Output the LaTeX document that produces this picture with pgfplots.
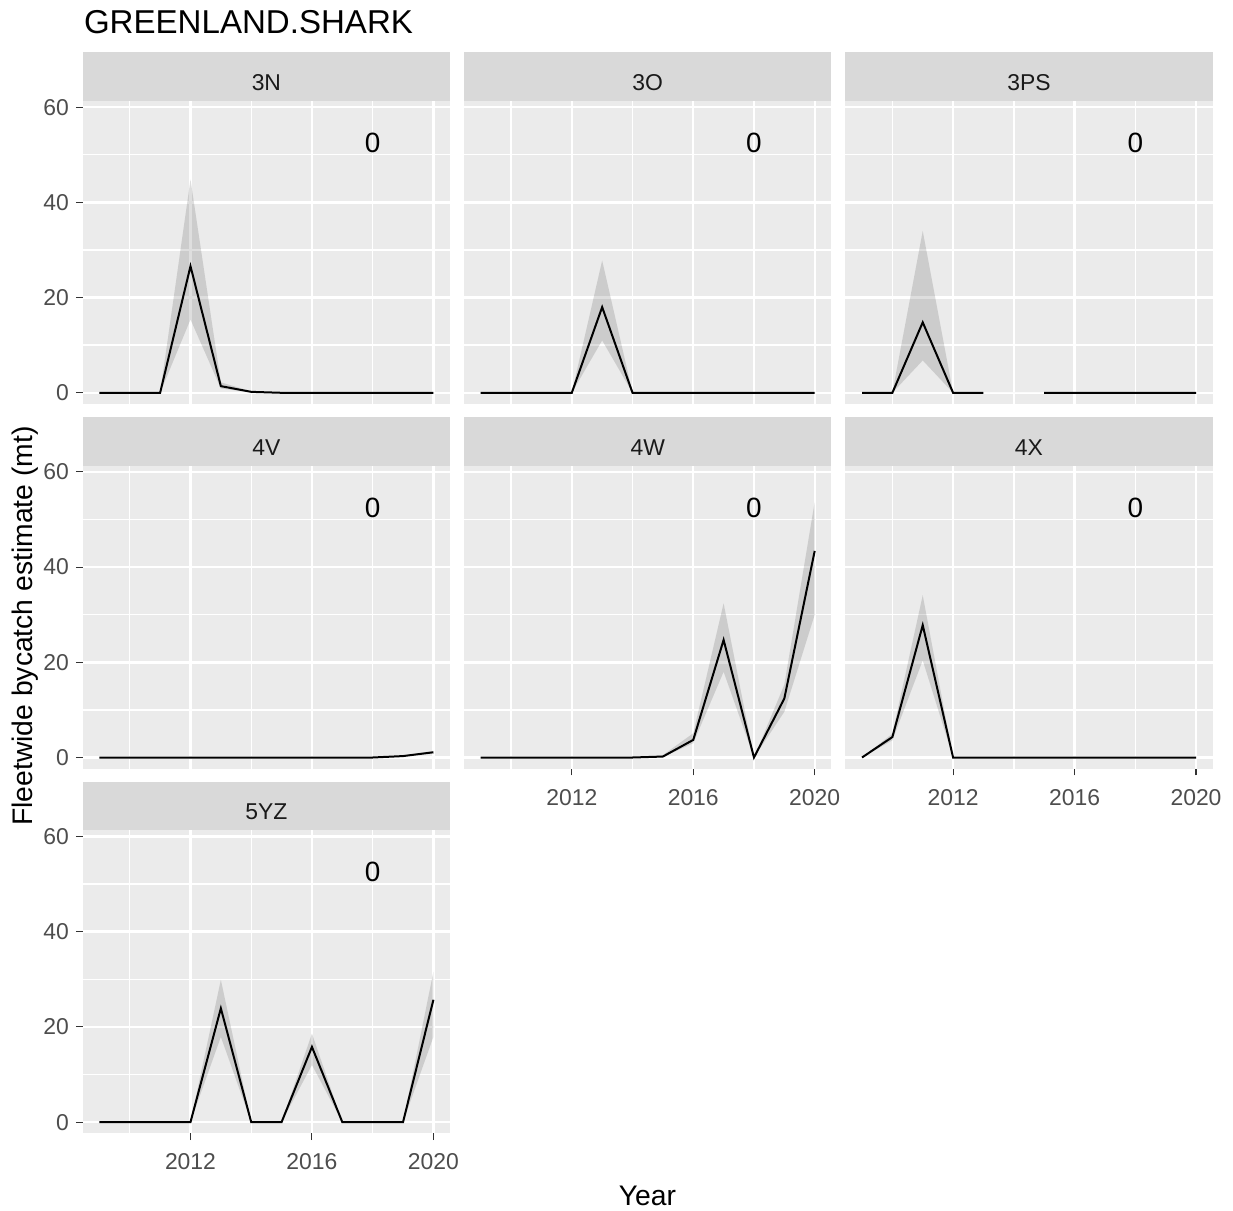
\documentclass[border=0pt]{standalone}
\usepackage{pgfplots}
\pgfplotsset{compat=1.18}
\usepackage{pgfplotstable}
\usepgfplotslibrary{fillbetween}
\usepackage{fontspec}
\setmainfont{Liberation Sans}

\definecolor{panelbg}{HTML}{EBEBEB}
\definecolor{stripbg}{HTML}{D9D9D9}
\definecolor{ticktext}{HTML}{4D4D4D}
\definecolor{tickmark}{HTML}{333333}
\definecolor{striptext}{HTML}{1A1A1A}

% Fleetwide bycatch estimate (mt) with lower / upper bounds, by NAFO division
\pgfplotstableread{
year est lo hi
2009 0 0 0
2010 0 0 0
2011 0 0 0
2012 26.6 15.4 44.8
2013 1.4 0.9 2.2
2014 0.2 0.1 0.3
2015 0 0 0
2016 0 0 0
2017 0 0 0
2018 0 0 0
2019 0 0 0
2020 0 0 0
}\tabThreeN
\pgfplotstableread{
year est lo hi
2009 0 0 0
2010 0 0 0
2011 0 0 0
2012 0 0 0
2013 18.0 11.0 27.8
2014 0 0 0
2015 0 0 0
2016 0 0 0
2017 0 0 0
2018 0 0 0
2019 0 0 0
2020 0 0 0
}\tabThreeO
\pgfplotstableread{
year est lo hi
2009 0 0 0
2010 0 0 0
2011 14.8 6.8 34.0
2012 0 0 0
2013 0 0 0
2014 nan 0 0
2015 0 0 0
2016 0 0 0
2017 0 0 0
2018 0 0 0
2019 0 0 0
2020 0 0 0
}\tabThreePS
\pgfplotstableread{
year est lo hi
2009 0 0 0
2010 0 0 0
2011 0 0 0
2012 0 0 0
2013 0 0 0
2014 0 0 0
2015 0 0 0
2016 0 0 0
2017 0 0 0
2018 0 0 0
2019 0.3 0.2 0.4
2020 1.1 0.9 1.4
}\tabFourV
\pgfplotstableread{
year est lo hi
2009 0 0 0
2010 0 0 0
2011 0 0 0
2012 0 0 0
2013 0 0 0
2014 0 0 0
2015 0.2 0.1 0.5
2016 3.7 3.0 5.1
2017 24.7 18.0 32.4
2018 0 0 0
2019 12.4 9.6 15.3
2020 43.4 30.0 53.7
}\tabFourW
\pgfplotstableread{
year est lo hi
2009 0 0 0
2010 4.3 3.6 5.0
2011 27.8 20.4 34.1
2012 0 0 0
2013 0 0 0
2014 0 0 0
2015 0 0 0
2016 0 0 0
2017 0 0 0
2018 0 0 0
2019 0 0 0
2020 0 0 0
}\tabFourX
\pgfplotstableread{
year est lo hi
2009 0 0 0
2010 0 0 0
2011 0 0 0
2012 0 0 0
2013 23.9 17.9 29.9
2014 0 0 0
2015 0 0 0
2016 15.8 12.0 18.6
2017 0 0 0
2018 0 0 0
2019 0 0 0
2020 25.7 17.9 31.6
}\tabFiveYZ

\pgfplotsset{
  facet/.style={
    scale only axis, width=183.7bp, height=151.5bp,
    xmin=2008.45, xmax=2020.55, ymin=-2.35, ymax=61.3,
    axis background/.style={fill=panelbg},
    axis line style={draw=none},
    xtick={2012,2016,2020}, minor xtick={2010,2014,2018},
    ytick={0,20,40,60}, minor ytick={10,30,50},
    grid=both,
    major grid style={white, line width=1.2bp},
    minor grid style={white, line width=0.7bp},
    tick align=outside, major tick length=3.4bp, minor tick length=0pt,
    xtick pos=bottom, ytick pos=left,
    tick style={tickmark, line width=0.55bp},
    tick label style={font=\fontsize{11.5}{13}\selectfont, text=ticktext},
    x tick label style={/pgf/number format/1000 sep={}, yshift=-3.3bp},
    /pgf/number format/assume math mode=true,
  },
  noxlab/.style={xticklabels={}, x tick style={draw=none}},
  noylab/.style={yticklabels={}, y tick style={draw=none}},
}

% one facet: name, table, axis options, position, strip label
\newcommand{\facet}[5]{%
  \begin{axis}[facet, name=#1, at={#4}, anchor=south west, #3]
    \addplot[name path=hi, draw=none, forget plot] table[x=year, y=hi]{#2};
    \addplot[name path=lo, draw=none, forget plot] table[x=year, y=lo]{#2};
    \addplot[fill=black, fill opacity=0.13, draw=none] fill between[of=hi and lo];
    \addplot[black, line width=1bp, unbounded coords=jump] table[x=year, y=est]{#2};
    \node[font=\fontsize{14}{16}\selectfont] at (axis cs:2018,52.5) {0};
  \end{axis}
  \fill[stripbg] (#1.north west) rectangle ([yshift=24.35bp]#1.north east);
  \node[anchor=base, font=\fontsize{11.5}{13}\selectfont, text=striptext]
    at ([yshift=5.2bp]#1.north) {#5};
}

\begin{document}
\begin{tikzpicture}
  \facet{pA}{\tabThreeN}{noxlab}{(41.35bp,403.5bp)}{3N}
  \facet{pB}{\tabThreeO}{noxlab,noylab}{(232bp,403.5bp)}{3O}
  \facet{pC}{\tabThreePS}{noxlab,noylab}{(422.65bp,403.5bp)}{3PS}
  \facet{pD}{\tabFourV}{noxlab}{(41.35bp,221.15bp)}{4V}
  \facet{pE}{\tabFourW}{noylab}{(232bp,221.15bp)}{4W}
  \facet{pF}{\tabFourX}{noylab}{(422.65bp,221.15bp)}{4X}
  \facet{pG}{\tabFiveYZ}{}{(41.35bp,38.85bp)}{5YZ}
  \node[anchor=base west, inner sep=0pt, font=\fontsize{16.6}{18}\selectfont] at (41.8bp,588.9bp) {GREENLAND.SHARK};
  \node[rotate=90, font=\fontsize{14.2}{16}\selectfont] at (12.5bp,292.5bp) {Fleetwide bycatch estimate (mt)};
  \node[anchor=base, font=\fontsize{14.2}{16}\selectfont] at (323.75bp,3bp) {Year};
  \pgfresetboundingbox
  \path[use as bounding box] (0,0) rectangle (616.5bp,605.5bp);
\end{tikzpicture}
\end{document}
